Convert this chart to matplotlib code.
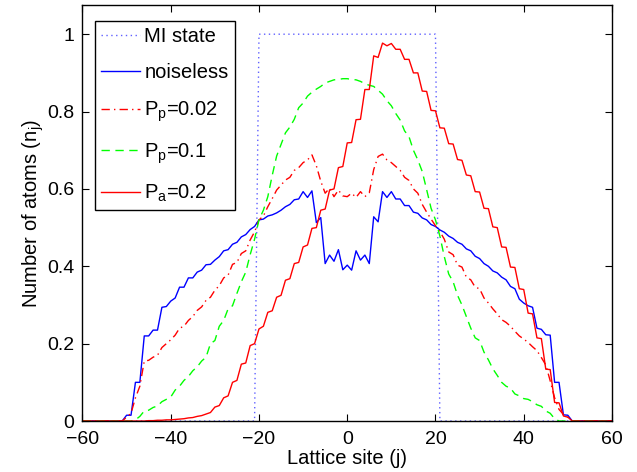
import numpy as np
import matplotlib
matplotlib.use("Agg")
import matplotlib.pyplot as plt

plt.rcParams['font.family'] = 'Liberation Sans'
plt.rcParams['mathtext.fontset'] = 'custom'
plt.rcParams['mathtext.rm'] = 'Liberation Sans'
plt.rcParams['mathtext.it'] = 'Liberation Sans:italic'

# lattice sites, data listed for -51..51 (zero beyond)
sites = np.arange(-60, 61)
j_lo, j_hi = -51, 51

mi_state = [0]*30 + [1]*41 + [0]*30   # -50..50, 1 for |j|<=20

noiseless = [0, 0.015, 0.015, 0.10, 0.10, 0.22, 0.22, 0.235, 0.235, 0.294, 0.296,      # -51..-41
             0.31, 0.318, 0.346, 0.346, 0.37, 0.37, 0.385, 0.39, 0.404, 0.405,          # -40..-31
             0.416, 0.425, 0.44, 0.443, 0.457, 0.462, 0.476, 0.482, 0.495, 0.503,       # -30..-21
             0.52, 0.522, 0.53, 0.533, 0.538, 0.545, 0.554, 0.56, 0.572, 0.574,         # -20..-11
             0.593, 0.578, 0.595, 0.513, 0.526, 0.407, 0.429, 0.413, 0.443, 0.391,      # -10..-1
             0.403,                                                                     # 0
             0.39, 0.44, 0.416, 0.429, 0.407, 0.528, 0.515, 0.593, 0.578, 0.593,        # 1..10
             0.574, 0.574, 0.557, 0.557, 0.54, 0.537, 0.525, 0.52, 0.508, 0.503,        # 11..20
             0.494, 0.488, 0.478, 0.472, 0.462, 0.457, 0.445, 0.44, 0.426, 0.42,        # 21..30
             0.407, 0.40, 0.388, 0.383, 0.372, 0.365, 0.348, 0.342, 0.315, 0.305,       # 31..40
             0.298, 0.294, 0.24, 0.237, 0.223, 0.222, 0.10, 0.10, 0.016, 0.015, 0]      # 41..51

pp002 = [0, 0.01, 0.02, 0.06, 0.09, 0.155, 0.157, 0.165, 0.17, 0.19, 0.20,
         0.21, 0.222, 0.24, 0.245, 0.26, 0.27, 0.286, 0.295, 0.312, 0.32,
         0.338, 0.35, 0.37, 0.377, 0.405, 0.41, 0.433, 0.44, 0.468, 0.489,
         0.52, 0.53, 0.554, 0.575, 0.597, 0.61, 0.623, 0.63, 0.648, 0.655,
         0.668, 0.675, 0.688, 0.66, 0.62, 0.589, 0.602, 0.58, 0.597, 0.582,
         0.58,
         0.589, 0.578, 0.593, 0.58, 0.59, 0.65, 0.684, 0.69, 0.675, 0.668,
         0.658, 0.648, 0.63, 0.622, 0.60, 0.589, 0.56, 0.54, 0.522, 0.505,
         0.49, 0.47, 0.437, 0.43, 0.403, 0.398, 0.372, 0.365, 0.346, 0.342,
         0.318, 0.305, 0.29, 0.277, 0.262, 0.255, 0.245, 0.232, 0.22, 0.212,
         0.203, 0.192, 0.182, 0.164, 0.145, 0.104, 0.06, 0.03, 0.017, 0.01, 0]

pp01 = [0, 0, 0, 0.003, 0.012, 0.026, 0.028, 0.035, 0.039, 0.05, 0.056,
        0.062, 0.08, 0.09, 0.105, 0.115, 0.13, 0.14, 0.155, 0.165, 0.20,
        0.208, 0.245, 0.26, 0.29, 0.298, 0.33, 0.36, 0.385, 0.43, 0.47,
        0.52, 0.545, 0.58, 0.635, 0.685, 0.715, 0.745, 0.76, 0.78, 0.81,
        0.822, 0.84, 0.85, 0.858, 0.865, 0.874, 0.878, 0.882, 0.883, 0.885,
        0.885,
        0.883, 0.882, 0.878, 0.872, 0.868, 0.865, 0.855, 0.845, 0.828, 0.815,
        0.795, 0.778, 0.75, 0.735, 0.70, 0.675, 0.645, 0.598, 0.55, 0.52,
        0.478, 0.425, 0.38, 0.36, 0.325, 0.30, 0.27, 0.24, 0.215, 0.208,
        0.178, 0.158, 0.135, 0.118, 0.10, 0.09, 0.085, 0.07, 0.065, 0.058,
        0.056, 0.05, 0.042, 0.038, 0.026, 0.02, 0.006, 0, 0, 0, 0]

pa02 = [0, 0, 0, 0, 0, 0, 0.001, 0.001, 0.002, 0.002, 0.003,
        0.003, 0.004, 0.005, 0.006, 0.008, 0.009, 0.012, 0.014, 0.018, 0.022,
        0.036, 0.04, 0.06, 0.065, 0.10, 0.105, 0.147, 0.15, 0.195, 0.20,
        0.238, 0.245, 0.281, 0.285, 0.32, 0.325, 0.364, 0.368, 0.407, 0.41,
        0.45, 0.455, 0.498, 0.50, 0.545, 0.548, 0.597, 0.60, 0.655, 0.658,
        0.719,
        0.72, 0.779, 0.78, 0.857, 0.857, 0.944, 0.94, 0.977, 0.97, 0.976,
        0.961, 0.961, 0.935, 0.935, 0.90, 0.90, 0.853, 0.852, 0.803, 0.802,
        0.758, 0.757, 0.717, 0.716, 0.676, 0.674, 0.636, 0.634, 0.593, 0.592,
        0.55, 0.549, 0.502, 0.50, 0.45, 0.449, 0.398, 0.397, 0.342, 0.34,
        0.279, 0.277, 0.215, 0.213, 0.134, 0.133, 0.048, 0.047, 0.013, 0.01, 0]


def full(vals, lo):
    # pad with the zero occupation on the empty outer sites
    out = np.zeros(len(sites))
    out[lo + 60: lo + 60 + len(vals)] = vals
    return out


fig = plt.figure(figsize=(6.37, 4.72), dpi=100)
ax = fig.add_axes([0.1295, 0.108, 0.8312, 0.881])

ax.plot(sites, full(mi_state, -50), color='#6060ff', ls=(0, (1, 2.5)), lw=1.0, label='MI state')
ax.plot(sites, full(noiseless, j_lo), color='b', ls='-', lw=1.0, label='noiseless')
ax.plot(sites, full(pp002, j_lo), color='r', ls=(0, (6, 3, 1, 3)), lw=1.0, label=r'P$_{\rm p}$=0.02')
ax.plot(sites, full(pp01, j_lo), color='#00ff00', ls=(0, (6, 4)), lw=1.0, label=r'P$_{\rm p}$=0.1')
ax.plot(sites, full(pa02, j_lo), color='r', ls='-', lw=1.0, label=r'P$_{\rm a}$=0.2')

ax.set_xlim(-60, 60)
ax.set_ylim(0, 1.075)
ax.set_xticks(np.arange(-60, 61, 20))
ax.set_yticks([0, 0.2, 0.4, 0.6, 0.8, 1])
ax.set_yticklabels(['0', '0.2', '0.4', '0.6', '0.8', '1'])
ax.tick_params(direction='in', top=True, right=True, length=5, labelsize=14)
ax.tick_params(axis='x', pad=7)
ax.tick_params(axis='y', pad=6)
for s in ax.spines.values():
    s.set_linewidth(1.0)

ax.set_xlabel('Lattice site (j)', fontsize=14.5, labelpad=1)
ax.set_ylabel(r'Number of atoms (n$_{\rm j}$)', fontsize=14.5, labelpad=1)

leg = ax.legend(loc='upper left', bbox_to_anchor=(0.0236, 0.9615), borderaxespad=0,
                fontsize=14.5, fancybox=False, framealpha=1, edgecolor='k',
                handlelength=1.95, handletextpad=0.2, borderpad=0.3, labelspacing=0.85)
leg.get_frame().set_linewidth(1.0)

fig.savefig('out.png', dpi=100)
